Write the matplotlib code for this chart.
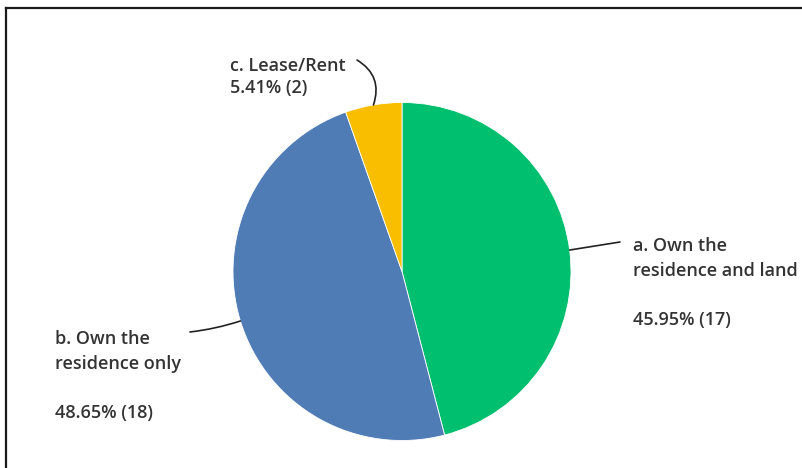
import numpy as np
import matplotlib
matplotlib.use("Agg")
import matplotlib.pyplot as plt
from matplotlib.lines import Line2D

plt.rcParams["font.family"] = ["Open Sans", "DejaVu Sans"]

# Data
labels   = ["a. Own the\nresidence and land", "b. Own the\nresidence only", "c. Lease/Rent"]
percents = [45.95, 48.65, 5.41]
counts   = [17, 18, 2]
colors   = ["#00BF6F", "#507CB6", "#F9BE00"]

W, H = 803, 468
fig = plt.figure(figsize=(W / 100, H / 100), dpi=100)
ax = fig.add_axes([0, 0, 1, 1])

# pie in pixel coordinates (y up)
cx, cy, r = 402, H - 271.5, 169
wedges, _ = ax.pie(counts, colors=colors, startangle=90, counterclock=False,
                   center=(cx, cy), radius=r, frame=True,
                   wedgeprops=dict(linewidth=0.6, edgecolor="white"))
ax.set_xlim(0, W)
ax.set_ylim(0, H)
ax.set_aspect("equal")
ax.axis("off")

txt = dict(fontsize=13, fontweight="semibold", color="#333333")

# text anchor (left x, top y from top) and leader end point for each slice
text_pos = [(633, 237), (55, 330), (230, 57)]
line_end = [(620, 242), (190, 332), (357, 60)]
rads     = [0.0, 0.05, -0.4]

for w, lab, p, c, (tx, ty), (lx, ly), rad in zip(wedges, labels, percents, counts,
                                                   text_pos, line_end, rads):
    ang = np.deg2rad((w.theta1 + w.theta2) / 2)
    ex, ey = cx + r * np.cos(ang), cy + r * np.sin(ang)
    if "\n" in lab:
        s = f"{lab}\n\n{p:.2f}% ({c})"
        ls = 1.47
    else:
        s = f"{lab}\n{p:.2f}% ({c})"
        ls = 1.3
    ax.text(tx, H - ty, s, ha="left", va="top", linespacing=ls, **txt)
    ax.annotate("", xy=(ex, ey), xytext=(lx, H - ly),
                arrowprops=dict(arrowstyle="-", color="#222222", lw=1.2,
                                shrinkA=0, shrinkB=0,
                                connectionstyle=f"arc3,rad={rad}"))

# frame lines (top and left)
fig.add_artist(Line2D([6 / W, 1], [1 - 8 / H, 1 - 8 / H], transform=fig.transFigure,
                      color="#1a1a1a", lw=1.6))
fig.add_artist(Line2D([6 / W, 6 / W], [0, 1 - 8 / H], transform=fig.transFigure,
                      color="#1a1a1a", lw=1.6))

fig.savefig("out.png", dpi=100)
